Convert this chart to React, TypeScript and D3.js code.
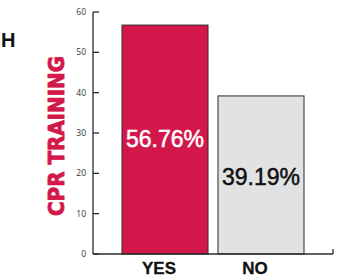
import React from "react";
import * as d3 from "d3";

const categories = ["YES", "NO"];
const values = [56.76, 39.19];
const valueLabels = ["56.76%", "39.19%"];
const yTicks = [0, 10, 20, 30, 40, 50, 60];
const axisTitle = "CPR TRAINING";
const cutTitle = "H";

const W = 343;
const H = 277;
const CRIMSON = "#D3174A";
const GRAY = "#E1E2E4";
const INK = "#2b2b2b";

export default function App() {
  const y = d3.scaleLinear().domain([0, 60]).range([254, 12]);
  const x = d3.scaleBand<string>().domain(categories).range([122, 304]).paddingInner(0.104).paddingOuter(0);
  const axisX = 93;
  const axisEnd = 333;
  const fills = [CRIMSON, GRAY];
  const labelColors = ["#ffffff", "#111111"];
  const labelBaselines = [147, 185];

  return (
    <svg width={W} height={H} style={{ position: "fixed", left: 0, top: 0, background: "#fff" }}
      fontFamily="'Liberation Sans', Arial, sans-serif">
      <rect width={W} height={H} fill="#fff" />
      {/* cut-off title */}
      <text x={1} y={47} textAnchor="start" fontSize={20} fontWeight="bold" fill="#111"
        fontFamily="'Liberation Sans Narrow', 'Liberation Sans', sans-serif">{cutTitle}</text>
      {/* y-axis title */}
      <text transform={`translate(${64},${136}) rotate(-90)`} textAnchor="middle" fontSize={21}
        fontWeight={900} fill={CRIMSON} stroke={CRIMSON} strokeWidth={0.9} textLength={160}
        lengthAdjust="spacingAndGlyphs" fontFamily="'DejaVu Sans', sans-serif">{axisTitle}</text>
      {/* bars */}
      {categories.map((c, i) => (
        <rect key={c} x={x(c)} y={y(values[i])} width={x.bandwidth()} height={y(0) - y(values[i])}
          fill={fills[i]} stroke={INK} strokeWidth={1} />
      ))}
      {/* value labels */}
      {categories.map((c, i) => (
        <text key={c + "v"} x={(x(c) as number) + x.bandwidth() / 2} y={labelBaselines[i]} textAnchor="middle"
          fontSize={23} fill={labelColors[i]} stroke={labelColors[i]} strokeWidth={0.5}>{valueLabels[i]}</text>
      ))}
      {/* y axis */}
      <line x1={axisX} x2={axisX} y1={y(60)} y2={y(0)} stroke={INK} strokeWidth={1.3} />
      {yTicks.map((t) => (
        <g key={t}>
          <line x1={axisX} x2={axisX + 6} y1={y(t)} y2={y(t)} stroke={INK} strokeWidth={1.3} />
          <text x={axisX - 7} y={y(t)} dy="0.35em" textAnchor="end" fontSize={8.5} fill="#333"
            fontFamily="'Open Sans', sans-serif">{t}</text>
        </g>
      ))}
      {/* x axis */}
      <line x1={axisX} x2={axisEnd} y1={y(0)} y2={y(0)} stroke={INK} strokeWidth={1.3} />
      <line x1={axisEnd} x2={axisEnd} y1={y(0)} y2={y(0) - 5} stroke={INK} strokeWidth={1.3} />
      {categories.map((c, i) => (
        <text key={c + "x"} x={(x(c) as number) + x.bandwidth() / 2 - 6} y={274} textAnchor="middle"
          fontSize={17} fontWeight="bold" fill="#111" stroke="#111" strokeWidth={0.3}>{c}</text>
      ))}
    </svg>
  );
}
